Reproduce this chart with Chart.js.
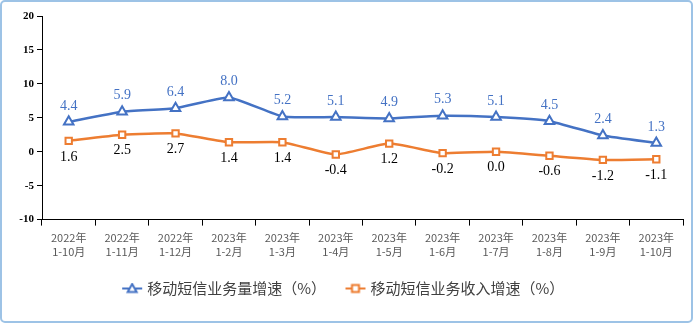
<!DOCTYPE html>
<html lang="zh">
<head>
  <meta charset="UTF-8">
  <title>移动短信业务量和收入增速</title>
  <script src="https://cdn.jsdelivr.net/npm/chart.js"></script>
  <style>
    body { margin: 0; background: #fff; }
    #wrap { position: relative; width: 693px; height: 323px; }
  </style>
</head>
<body>
  <div id="wrap"><canvas id="smsChart" width="693" height="323"></canvas></div>

  <script>
    var years = ['2022年', '2022年', '2022年', '2023年', '2023年', '2023年', '2023年', '2023年', '2023年', '2023年', '2023年', '2023年'];
    var months = ['1-10月', '1-11月', '1-12月', '1-2月', '1-3月', '1-4月', '1-5月', '1-6月', '1-7月', '1-8月', '1-9月', '1-10月'];
    var volumeGrowth = [4.4, 5.9, 6.4, 8.0, 5.2, 5.1, 4.9, 5.3, 5.1, 4.5, 2.4, 1.3];
    var revenueGrowth = [1.6, 2.5, 2.7, 1.4, 1.4, -0.4, 1.2, -0.2, 0.0, -0.6, -1.2, -1.1];
    var seriesNames = ['移动短信业务量增速（%）', '移动短信业务收入增速（%）'];

    var BLUE = '#4472C4';
    var ORANGE = '#ED7D31';

    // small legend icons: line with marker in the middle
    function legendIcon(color, shape) {
      var c = document.createElement('canvas');
      c.width = 22; c.height = 12;
      var g = c.getContext('2d');
      g.strokeStyle = color;
      g.lineWidth = 2;
      g.beginPath(); g.moveTo(1, 6); g.lineTo(21, 6); g.stroke();
      g.fillStyle = '#fff';
      g.beginPath();
      if (shape === 'tri') {
        g.moveTo(11, 1.5); g.lineTo(15.5, 9.5); g.lineTo(6.5, 9.5); g.closePath();
      } else {
        g.rect(7.5, 2.5, 7, 7);
      }
      g.fill(); g.stroke();
      return c;
    }

    var labelPlugin = {
      id: 'valueLabels',
      afterDatasetsDraw: function(chart) {
        var ctx = chart.ctx;
        ctx.save();
        ctx.font = '14px "Liberation Serif", serif';
        ctx.textAlign = 'center';
        ctx.textBaseline = 'middle';
        chart.data.datasets.forEach(function(ds, i) {
          var meta = chart.getDatasetMeta(i);
          meta.data.forEach(function(pt, j) {
            var v = ds.data[j];
            if (i === 0) {
              ctx.fillStyle = BLUE;
              ctx.fillText(v.toFixed(1), pt.x, pt.y - 16);
            } else {
              ctx.fillStyle = '#000';
              ctx.fillText(v.toFixed(1), pt.x, pt.y + 16);
            }
          });
        });
        ctx.restore();
      }
    };

    var framePlugin = {
      id: 'frame',
      afterDraw: function(chart) {
        var ctx = chart.ctx;
        ctx.save();
        ctx.strokeStyle = '#9DC3E6';
        ctx.lineWidth = 2;
        ctx.beginPath();
        ctx.roundRect(1, 1, chart.width - 2, chart.height - 2, 4);
        ctx.stroke();
        ctx.restore();
      }
    };

    var ctx = document.getElementById('smsChart').getContext('2d');
    var chart = new Chart(ctx, {
      type: 'line',
      data: {
        labels: years.map(function(y, i) { return [y, months[i]]; }),
        datasets: [{
          label: seriesNames[0],
          data: volumeGrowth,
          borderColor: BLUE,
          borderWidth: 2.5,
          tension: 0.15,
          pointStyle: 'triangle',
          pointRadius: 5.5,
          pointBorderWidth: 2,
          pointBackgroundColor: '#fff',
          pointBorderColor: BLUE
        }, {
          label: seriesNames[1],
          data: revenueGrowth,
          borderColor: ORANGE,
          borderWidth: 2.5,
          tension: 0.15,
          pointStyle: 'rect',
          pointRadius: 4.5,
          pointBorderWidth: 2,
          pointBackgroundColor: '#fff',
          pointBorderColor: ORANGE
        }]
      },
      options: {
        responsive: false,
        animation: false,
        layout: { padding: { left: 6, right: 10, top: 16, bottom: 17 } },
        plugins: {
          tooltip: { enabled: false },
          legend: {
            position: 'bottom',
            labels: {
              usePointStyle: true,
              color: '#404040',
              font: { size: 15, family: '"Noto Sans CJK SC", sans-serif' },
              padding: 22,
              generateLabels: function(chart) {
                return [
                  { text: seriesNames[0], pointStyle: legendIcon(BLUE, 'tri'), datasetIndex: 0, fontColor: '#404040', lineWidth: 0 },
                  { text: seriesNames[1], pointStyle: legendIcon(ORANGE, 'sq'), datasetIndex: 1, fontColor: '#404040', lineWidth: 0 }
                ];
              }
            }
          }
        },
        scales: {
          x: {
            offset: true,
            afterFit: function(scale) { scale.height -= 5; },
            grid: { offset: true, drawOnChartArea: false, drawTicks: true, tickLength: 6, color: '#000' },
            border: { color: '#000', width: 1 },
            ticks: {
              color: '#595959',
              font: { size: 11, family: '"Noto Sans CJK SC", sans-serif' },
              maxRotation: 0,
              autoSkip: false,
              padding: 6
            }
          },
          y: {
            min: -10,
            max: 20,
            afterFit: function(scale) { scale.width = 36; },
            grid: { drawOnChartArea: false, drawTicks: true, tickLength: 5, color: '#000' },
            border: { color: '#000', width: 1 },
            ticks: {
              stepSize: 5,
              color: '#000',
              font: { size: 11, weight: 'bold', family: '"Liberation Serif", serif' },
              padding: 3
            }
          }
        }
      },
      plugins: [labelPlugin, framePlugin]
    });
  </script>
</body>
</html>
